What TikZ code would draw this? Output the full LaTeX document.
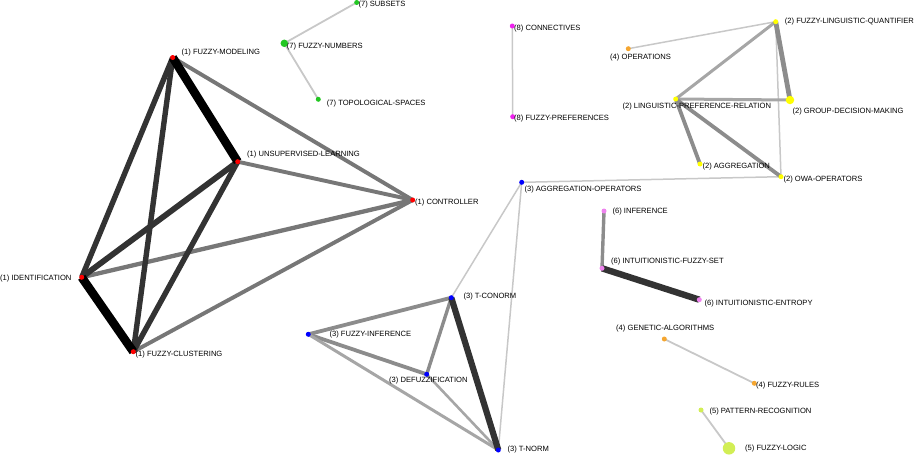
\documentclass[tikz,border=0pt]{standalone}
\usepackage{fontspec}
\setmainfont{Liberation Sans}
\pgfdeclarelayer{bg}
\pgfsetlayers{bg,main}
\definecolor{cred}{HTML}{FF0000}
\definecolor{cblue}{HTML}{0000FF}
\definecolor{cyel}{HTML}{FFFF00}
\definecolor{corange}{HTML}{F5A630}
\definecolor{cgreen}{HTML}{22C722}
\definecolor{cmag}{HTML}{EE22EE}
\definecolor{cviolet}{HTML}{EE82EE}
\definecolor{cyg}{HTML}{D2EE55}
\definecolor{eblack}{HTML}{000000}
\definecolor{edark}{HTML}{333333}
\definecolor{emid}{HTML}{777777}
\definecolor{egray}{HTML}{8C8C8C}
\definecolor{elgray}{HTML}{A6A6A6}
\definecolor{epale}{HTML}{C8C8C8}
\begin{document}
\begin{tikzpicture}[x=1pt,y=-1pt,
  lbl/.style={anchor=west,inner sep=0pt,font=\fontsize{7.6}{9}\selectfont},
  dot/.style={circle,inner sep=0pt,minimum size=5pt,fill=#1,draw=none},
  eblk/.style={draw=eblack,line width=8.6pt},
  edk/.style={draw=edark,line width=5.4pt},
  emd/.style={draw=emid,line width=3.9pt},
  egr/.style={draw=egray,line width=3.8pt},
  elg/.style={draw=elgray,line width=3pt},
  epl/.style={draw=epale,line width=1.8pt}]
\useasboundingbox (0,0) rectangle (915,455);

% cluster 1
\node[dot=cred] (fm) at (172.7,57.5) {};
\node[dot=cred] (ul) at (237.7,161.7) {};
\node[dot=cred] (ctl) at (412.7,200) {};
\node[dot=cred] (id) at (81.7,277.3) {};
\node[dot=cred] (fc) at (133.3,351.7) {};
\node[lbl] (fml) at (181.5,52.3) {(1) FUZZY-MODELING};
\node[lbl] (ull) at (247,155) {(1) UNSUPERVISED-LEARNING};
\node[lbl] (ctll) at (415,202.7) {(1) CONTROLLER};
\node[lbl] (idl) at (0,279) {(1) IDENTIFICATION};
\node[lbl] (fcl) at (135.5,354.3) {(1) FUZZY-CLUSTERING};

% cluster 7
\node[dot=cgreen] (sub) at (356.7,2.5) {};
\node[dot=cgreen,minimum size=7.5pt] (fn) at (284.3,43.3) {};
\node[dot=cgreen] (top) at (318.3,99.3) {};
\node[lbl] (subl) at (358.3,5) {(7) SUBSETS};
\node[lbl] (fnl) at (286.7,46.7) {(7) FUZZY-NUMBERS};
\node[lbl] (topl) at (326.7,103.3) {(7) TOPOLOGICAL-SPACES};

% cluster 8
\node[dot=cmag] (con) at (512.3,26) {};
\node[dot=cmag] (fp) at (512.7,116.7) {};
\node[lbl] (conl) at (514,29) {(8) CONNECTIVES};
\node[lbl] (fpl) at (514,119) {(8) FUZZY-PREFERENCES};

% cluster 2 / 4
\node[dot=corange] (ops) at (628.3,48.7) {};
\node[lbl] (opsl) at (610,58) {(4) OPERATIONS};
\node[dot=cyel] (flq) at (775.7,21.7) {};
\node[lbl] (flql) at (784.7,22) {(2) FUZZY-LINGUISTIC-QUANTIFIER};
\node[dot=cyel] (lpr) at (675.7,99) {};
\node[lbl] (lprl) at (622.3,107) {(2) LINGUISTIC-PREFERENCE-RELATION};
\node[dot=cyel,minimum size=8.5pt] (gdm) at (790,100) {};
\node[lbl] (gdml) at (792.3,112) {(2) GROUP-DECISION-MAKING};
\node[dot=cyel] (agg) at (700,164) {};
\node[lbl] (aggl) at (702.3,166.7) {(2) AGGREGATION};
\node[dot=cyel] (owa) at (781,176.7) {};
\node[lbl] (owal) at (783.3,180) {(2) OWA-OPERATORS};

% cluster 3
\node[dot=cblue] (aop) at (521.7,182.3) {};
\node[lbl] (aopl) at (524.3,190) {(3) AGGREGATION-OPERATORS};
\node[dot=cblue] (tc) at (451.3,297.7) {};
\node[lbl] (tcl) at (463.3,296.7) {(3) T-CONORM};
\node[dot=cblue] (fi) at (308.3,334.3) {};
\node[lbl] (fil) at (329.3,335) {(3) FUZZY-INFERENCE};
\node[dot=cblue] (dz) at (426.7,374.3) {};
\node[lbl] (dzl) at (389,380.7) {(3) DEFUZZIFICATION};
\node[dot=cblue] (tn) at (498.3,450) {};
\node[lbl] (tnl) at (507.3,449.3) {(3) T-NORM};

% cluster 6
\node[dot=cviolet] (inf) at (604,211) {};
\node[lbl] (infl) at (612.3,211.7) {(6) INFERENCE};
\node[dot=cviolet] (ifs) at (602,268.3) {};
\node[lbl] (ifsl) at (611,262) {(6) INTUITIONISTIC-FUZZY-SET};
\node[dot=cviolet] (ie) at (699.3,299.7) {};
\node[lbl] (iel) at (704.3,303.7) {(6) INTUITIONISTIC-ENTROPY};

% cluster 4 lower
\node[dot=corange] (ga) at (664.3,339) {};
\node[lbl] (gal) at (616,329) {(4) GENETIC-ALGORITHMS};
\node[dot=corange] (fr) at (754.3,383.3) {};
\node[lbl] (frl) at (756,386) {(4) FUZZY-RULES};

% cluster 5
\node[dot=cyg] (pr) at (701,410) {};
\node[lbl] (prl) at (709.3,411.7) {(5) PATTERN-RECOGNITION};
\node[dot=cyg,minimum size=12.5pt] (fl) at (729,448.3) {};
\node[lbl] (fll) at (745,449) {(5) FUZZY-LOGIC};

\begin{pgfonlayer}{bg}
% cluster 1
\draw[emd] (fm.center) -- (ctl.center);
\draw[emd] (ul.center) -- (ctl.center);
\draw[emd,line width=4.3pt] (id.center) -- (ctl.center);
\draw[emd] (fc.center) -- (ctl.center);
\draw[edk] (fm.center) -- (id.center);
\draw[edk] (fm.center) -- (fc.center);
\draw[edk,line width=5.8pt] (ul.center) -- (id.center);
\draw[edk] (ul.center) -- (fc.center);
\draw[eblk] (fm.center) -- (ul.center);
\draw[eblk] (id.center) -- (fc.center);
% cluster 7
\draw[epl] (fn.center) -- (sub.center);
\draw[epl] (fn.center) -- (top.center);
% cluster 8
\draw[epl,line width=1.5pt] (con.center) -- (fp.center);
% cluster 2
\draw[epl,line width=1.5pt] (ops.center) -- (flq.center);
\draw[epl,line width=1.5pt] (flq.center) -- (owa.center);
\draw[epl,line width=1.5pt] (aop.center) -- (owa.center);
\draw[elg] (flq.center) -- (lpr.center);
\draw[elg] (lpr.center) -- (gdm.center);
\draw[egr,line width=4.8pt] (flq.center) -- (gdm.center);
\draw[egr,line width=3.8pt] (lpr.center) -- (agg.center);
\draw[egr,line width=3.8pt] (lpr.center) -- (owa.center);
% cluster 3
\draw[epl,line width=1.5pt] (aop.center) -- (tc.center);
\draw[epl,line width=1.5pt] (aop.center) -- (tn.center);
\draw[egr] (tc.center) -- (fi.center);
\draw[egr,line width=3.4pt] (tc.center) -- (dz.center);
\draw[egr] (fi.center) -- (dz.center);
\draw[elg] (fi.center) -- (tn.center);
\draw[elg,line width=2.6pt] (dz.center) -- (tn.center);
\draw[edk,line width=6.2pt] (tc.center) -- (tn.center);
% cluster 6
\draw[egr,line width=3.4pt] (inf.center) -- (ifs.center);
\draw[edk,line width=6.4pt] (ifs.center) -- (ie.center);
% cluster 4
\draw[epl] (ga.center) -- (fr.center);
% cluster 5
\draw[epl] (pr.center) -- (fl.center);
\end{pgfonlayer}
\end{tikzpicture}
\end{document}
